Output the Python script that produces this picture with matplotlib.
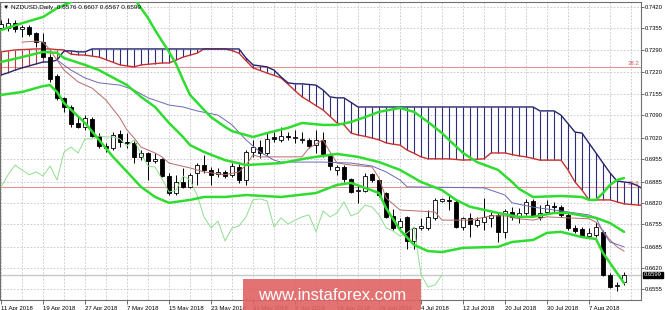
import matplotlib
matplotlib.use("Agg")
import matplotlib.pyplot as plt
from matplotlib.patches import Rectangle
from matplotlib.transforms import blended_transform_factory
import numpy as np

plt.rcParams['font.family'] = ['Liberation Sans', 'DejaVu Sans']

# daily candles, 11 Apr 2018 .. 14 Aug 2018
opens = [0.7356, 0.7356, 0.7371, 0.7353, 0.7359, 0.7341, 0.7313, 0.7267, 0.7209, 0.7142,
         0.7114, 0.7065, 0.7053, 0.7077, 0.7025, 0.6994, 0.6988, 0.7031, 0.7006, 0.7004,
         0.6961, 0.6973, 0.6948, 0.6955, 0.6902, 0.6850, 0.6884, 0.6869, 0.6912, 0.6936,
         0.6921, 0.6909, 0.6915, 0.6906, 0.6930, 0.6890, 0.6976, 0.6991, 0.6973, 0.7022,
         0.7013, 0.7025, 0.7019, 0.7013, 0.7013, 0.6997, 0.7013, 0.6967, 0.6921, 0.6930,
         0.6893, 0.6856, 0.6856, 0.6909, 0.6890, 0.6850, 0.6780, 0.6746, 0.6777, 0.6703,
         0.6743, 0.6743, 0.6774, 0.6826, 0.6829, 0.6823, 0.6746, 0.6774, 0.6752, 0.6761,
         0.6774, 0.6783, 0.6731, 0.6792, 0.6777, 0.6789, 0.6826, 0.6777, 0.6792, 0.6810,
         0.6807, 0.6783, 0.6743, 0.6740, 0.6718, 0.6721, 0.6731, 0.6599, 0.6565, 0.6576]
highs = [0.7381, 0.7387, 0.7381, 0.7365, 0.7365, 0.7344, 0.7341, 0.7273, 0.7215, 0.7145,
         0.7120, 0.7083, 0.7089, 0.7083, 0.7034, 0.7004, 0.7037, 0.7043, 0.7034, 0.7013,
         0.6982, 0.6976, 0.6973, 0.6958, 0.6912, 0.6906, 0.6927, 0.6912, 0.6942, 0.6967,
         0.6930, 0.6927, 0.6921, 0.6942, 0.6945, 0.6982, 0.7013, 0.7013, 0.7037, 0.7037,
         0.7053, 0.7037, 0.7043, 0.7037, 0.7019, 0.7043, 0.7037, 0.6973, 0.6936, 0.6936,
         0.6896, 0.6875, 0.6912, 0.6912, 0.6896, 0.6853, 0.6801, 0.6774, 0.6780, 0.6746,
         0.6774, 0.6798, 0.6835, 0.6835, 0.6844, 0.6829, 0.6777, 0.6789, 0.6777, 0.6835,
         0.6792, 0.6789, 0.6801, 0.6807, 0.6804, 0.6832, 0.6832, 0.6813, 0.6829, 0.6823,
         0.6813, 0.6789, 0.6752, 0.6746, 0.6743, 0.6761, 0.6737, 0.6605, 0.6577, 0.6607]
lows = [0.7350, 0.7347, 0.7344, 0.7329, 0.7332, 0.7298, 0.7264, 0.7191, 0.7135, 0.7099,
        0.7053, 0.7050, 0.7043, 0.7022, 0.6988, 0.6976, 0.6982, 0.6991, 0.6988, 0.6942,
        0.6951, 0.6890, 0.6942, 0.6899, 0.6844, 0.6844, 0.6866, 0.6866, 0.6875, 0.6912,
        0.6875, 0.6899, 0.6896, 0.6899, 0.6881, 0.6875, 0.6961, 0.6958, 0.6967, 0.7006,
        0.7006, 0.7013, 0.7004, 0.7004, 0.6988, 0.6973, 0.6961, 0.6921, 0.6906, 0.6884,
        0.6850, 0.6820, 0.6853, 0.6884, 0.6838, 0.6774, 0.6737, 0.6737, 0.6679, 0.6679,
        0.6737, 0.6737, 0.6767, 0.6823, 0.6798, 0.6743, 0.6737, 0.6715, 0.6746, 0.6737,
        0.6746, 0.6700, 0.6712, 0.6767, 0.6758, 0.6783, 0.6777, 0.6767, 0.6789, 0.6789,
        0.6777, 0.6737, 0.6728, 0.6715, 0.6715, 0.6715, 0.6596, 0.6559, 0.6550, 0.6567]
closes = [0.7368, 0.7371, 0.7353, 0.7359, 0.7338, 0.7313, 0.7267, 0.7200, 0.7142, 0.7114,
          0.7062, 0.7053, 0.7080, 0.7025, 0.6994, 0.6988, 0.7028, 0.7006, 0.7004, 0.6961,
          0.6973, 0.6948, 0.6955, 0.6902, 0.6850, 0.6884, 0.6869, 0.6906, 0.6936, 0.6921,
          0.6906, 0.6915, 0.6902, 0.6933, 0.6890, 0.6976, 0.6991, 0.6973, 0.7016, 0.7016,
          0.7025, 0.7022, 0.7022, 0.7016, 0.6994, 0.7013, 0.6970, 0.6933, 0.6930, 0.6893,
          0.6853, 0.6859, 0.6902, 0.6890, 0.6844, 0.6777, 0.6743, 0.6764, 0.6703, 0.6743,
          0.6749, 0.6777, 0.6829, 0.6832, 0.6826, 0.6746, 0.6774, 0.6755, 0.6767, 0.6777,
          0.6783, 0.6731, 0.6795, 0.6777, 0.6789, 0.6823, 0.6780, 0.6789, 0.6813, 0.6807,
          0.6783, 0.6743, 0.6734, 0.6718, 0.6728, 0.6746, 0.6600, 0.6562, 0.6568, 0.6599]

date_labels = ["11 Apr 2018", "19 Apr 2018", "27 Apr 2018", "7 May 2018", "15 May 2018",
               "23 May 2018", "31 May 2018", "8 Jun 2018", "18 Jun 2018", "26 Jun 2018",
               "4 Jul 2018", "12 Jul 2018", "20 Jul 2018", "30 Jul 2018", "7 Aug 2018"]
price_labels = ["0.7420", "0.7355", "0.7290", "0.7220", "0.7155", "0.7090", "0.7020",
                "0.6955", "0.6885", "0.6820", "0.6755", "0.6685", "0.6620", "0.6555"]

# ichimoku cloud (spans already shifted forward), one value per bar
span_a = [0.7283, 0.7286, 0.7289, 0.7290, 0.7291, 0.7292, 0.7292, 0.7292, 0.7290, 0.7289,
          0.7276, 0.7274, 0.7273, 0.7270, 0.7267, 0.7259, 0.7251, 0.7243, 0.7240, 0.7237,
          0.7243, 0.7245, 0.7247, 0.7249, 0.7249, 0.7258, 0.7267, 0.7273, 0.7279, 0.7292,
          0.7292, 0.7292, 0.7292, 0.7287, 0.7279, 0.7256, 0.7234, 0.7226, 0.7218, 0.7211,
          0.7203, 0.7184, 0.7164, 0.7145, 0.7132, 0.7118, 0.7105, 0.7085, 0.7065, 0.7059,
          0.7034, 0.7028, 0.7024, 0.7019, 0.7013, 0.7004, 0.7000, 0.6997, 0.6982, 0.6972,
          0.6961, 0.6955, 0.6955, 0.6955, 0.6955, 0.6953, 0.6951, 0.6952, 0.6954, 0.6955,
          0.6973, 0.6973, 0.6973, 0.6968, 0.6964, 0.6961, 0.6956, 0.6951, 0.6951, 0.6951,
          0.6951, 0.6921, 0.6884, 0.6859, 0.6829, 0.6829, 0.6829, 0.6829, 0.6823, 0.6817,
          0.6815, 0.6813, 0.6813]
span_b = [0.7212, 0.7219, 0.7227, 0.7234, 0.7240, 0.7246, 0.7252, 0.7252, 0.7258, 0.7286,
          0.7286, 0.7283, 0.7283, 0.7292, 0.7292, 0.7292, 0.7292, 0.7292, 0.7292, 0.7292,
          0.7292, 0.7292, 0.7292, 0.7292, 0.7292, 0.7292, 0.7292, 0.7292, 0.7292, 0.7292,
          0.7292, 0.7292, 0.7292, 0.7292, 0.7292, 0.7264, 0.7243, 0.7240, 0.7237, 0.7227,
          0.7206, 0.7188, 0.7185, 0.7185, 0.7183, 0.7181, 0.7166, 0.7145, 0.7142, 0.7142,
          0.7128, 0.7114, 0.7114, 0.7114, 0.7114, 0.7114, 0.7114, 0.7114, 0.7114, 0.7114,
          0.7114, 0.7114, 0.7114, 0.7114, 0.7114, 0.7114, 0.7114, 0.7114, 0.7114, 0.7114,
          0.7114, 0.7114, 0.7114, 0.7114, 0.7114, 0.7114, 0.7114, 0.7102, 0.7102, 0.7102,
          0.7089, 0.7063, 0.7037, 0.7034, 0.7003, 0.6973, 0.6942, 0.6912, 0.6887, 0.6884,
          0.6881, 0.6872, 0.6858]

# tenkan / kijun read at selected bars
tenkan_i = [3, 5, 6, 7, 9, 11, 13, 15, 17, 18, 19, 20, 22, 23, 24, 27, 29, 32, 34, 35,
            36, 37, 43, 44, 46, 47, 48, 50, 53, 54, 55, 57, 62, 63, 67, 70, 72, 74, 76, 78,
            84, 85, 87, 88, 89]
tenkan_v = [0.7313, 0.7316, 0.7313, 0.7289, 0.7227, 0.7191, 0.7172, 0.7135, 0.7080, 0.7043,
            0.7019, 0.6991, 0.6973, 0.6961, 0.6942, 0.6927, 0.6915, 0.6906, 0.6915, 0.6936,
            0.6967, 0.6961, 0.6961, 0.6988, 0.7013, 0.6976, 0.6942, 0.6936, 0.6930, 0.6896,
            0.6835, 0.6798, 0.6792, 0.6767, 0.6767, 0.6780, 0.6780, 0.6771, 0.6767, 0.6777,
            0.6771, 0.6761, 0.6706, 0.6685, 0.6672]
kijun_i = [8, 10, 12, 14, 17, 19, 21, 24, 26, 28, 31, 32, 33, 35, 37, 39, 40, 46, 50, 53,
           55, 57, 58, 69, 72, 73, 76, 84, 85, 86, 87, 89]
kijun_v = [0.7258, 0.7227, 0.7203, 0.7188, 0.7181, 0.7166, 0.7142, 0.7120, 0.7114, 0.7102,
           0.7089, 0.7074, 0.7059, 0.7013, 0.6976, 0.6951, 0.6945, 0.6945, 0.6942, 0.6933,
           0.6915, 0.6890, 0.6869, 0.6866, 0.6844, 0.6820, 0.6807, 0.6783, 0.6774, 0.6731,
           0.6700, 0.6685]
chikou_shift = 26

# bollinger bands
ub_i = [0, 3, 6, 8, 10, 11, 14, 17, 19, 21, 22, 23, 24, 25, 26, 27, 29, 30, 32, 33,
        36, 38, 41, 43, 46, 48, 50, 52, 54, 57, 59, 61, 63, 64, 66, 68, 71, 73, 74, 76,
        80, 83, 84, 85, 86, 87, 88, 89]
ub_v = [0.7350, 0.7371, 0.7390, 0.7417, 0.7436, 0.7455, 0.7475, 0.7470, 0.7447, 0.7387,
        0.7350, 0.7316, 0.7283, 0.7246, 0.7197, 0.7151, 0.7105, 0.7083, 0.7053, 0.7040,
        0.7022, 0.7034, 0.7050, 0.7065, 0.7059, 0.7059, 0.7068, 0.7083, 0.7099, 0.7111,
        0.7099, 0.7068, 0.7034, 0.7013, 0.6973, 0.6945, 0.6921, 0.6884, 0.6863, 0.6838,
        0.6841, 0.6838, 0.6829, 0.6829, 0.6850, 0.6875, 0.6890, 0.6896]
mb_i = [0, 3, 6, 8, 9, 12, 14, 18, 20, 22, 24, 26, 27, 29, 32, 35, 40, 44, 48, 51,
        54, 57, 60, 63, 65, 67, 71, 74, 76, 79, 81, 84, 85, 87, 89]
mb_v = [0.7252, 0.7267, 0.7283, 0.7280, 0.7264, 0.7243, 0.7227, 0.7181, 0.7145, 0.7114,
        0.7065, 0.7022, 0.6997, 0.6976, 0.6951, 0.6936, 0.6942, 0.6958, 0.6970, 0.6961,
        0.6945, 0.6921, 0.6884, 0.6859, 0.6829, 0.6808, 0.6789, 0.6777, 0.6777, 0.6789,
        0.6789, 0.6777, 0.6774, 0.6758, 0.6731]
lb_i = [0, 3, 6, 7, 8, 9, 12, 14, 16, 18, 20, 22, 24, 27, 29, 32, 35, 40, 45, 48,
        50, 52, 54, 55, 57, 59, 61, 63, 66, 71, 73, 76, 78, 80, 83, 85, 86, 88, 89]
lb_v = [0.7151, 0.7160, 0.7178, 0.7181, 0.7160, 0.7126, 0.7065, 0.7013, 0.6961, 0.6915,
        0.6869, 0.6838, 0.6820, 0.6829, 0.6838, 0.6838, 0.6844, 0.6838, 0.6850, 0.6875,
        0.6881, 0.6866, 0.6850, 0.6804, 0.6737, 0.6691, 0.6672, 0.6669, 0.6682, 0.6685,
        0.6700, 0.6706, 0.6728, 0.6731, 0.6715, 0.6709, 0.6666, 0.6605, 0.6574]

fibo_levels = [0.72375, 0.6870]
fibo_names = ["38.2", "23.6"]
header = "\u25bc NZDUSD,Daily  0.6576 0.6607 0.6567 0.6599"
last_price = closes[-1]

# ---- figure ----
W, H = 665, 310
fig = plt.figure(figsize=(W / 100, H / 100), dpi=100)
ax = fig.add_axes([0 / W, 10 / H, 641 / W, 298 / H])
ax.set_xlim(-0.15, 91.43)
ax.set_ylim(0.6522, 0.7436)

grid_kw = dict(color='#c4c4c4', lw=0.6, linestyle=(0, (2, 2)))
ax.set_xticks(np.arange(0, 90, 6))
ax.set_xticklabels(date_labels)
ax.set_xticks(np.arange(0, 92, 3), minor=True)
ax.set_yticks([float(p) for p in price_labels])
ax.set_yticklabels(price_labels)
ax.grid(True, which='both', **grid_kw)
ax.set_axisbelow(True)
ax.yaxis.tick_right()
ax.tick_params(axis='y', length=2, width=0.6, pad=0.6, labelsize=4.2, color='#555555')
ax.tick_params(axis='x', which='major', length=3, width=0.6, pad=1, labelsize=4.3, color='#555555')
ax.tick_params(axis='x', which='minor', length=0)
for lbl in ax.get_xticklabels():
    lbl.set_horizontalalignment('left')
for s in ax.spines.values():
    s.set_color('#707070')
    s.set_linewidth(0.8)

# fibo lines and current price line
for lev, name in zip(fibo_levels, fibo_names):
    ax.axhline(lev, color='#e09595', lw=0.8, zorder=1)
    ax.text(91.2, lev + 0.0002, name, ha='right', va='bottom', fontsize=4.3, color='#d05a5a', zorder=1)
ax.axhline(last_price, color='#c8c8c8', lw=1.0, zorder=1)

# cloud
ci = np.arange(len(span_a))
sa = np.array(span_a)
sb = np.array(span_b)
hatch_cols = np.where(sa > sb, '#b83a3a', '#2c2c7c')
ax.vlines(ci, sa, sb, colors=hatch_cols, lw=0.8, zorder=2)
ax.plot(ci, sa, color='#c83030', lw=1.0, zorder=2.5)
ax.plot(ci, sb, color='#24246e', lw=1.0, zorder=2.5)

# candles
idx = np.arange(len(closes))
o = np.array(opens)
c = np.array(closes)
up = c >= o
ax.vlines(idx, lows, highs, color='black', lw=0.7, zorder=3)
body_lo = np.minimum(o, c)
body_h = np.maximum(np.abs(c - o), 0.00012)
ax.bar(idx, body_h, bottom=body_lo, width=0.62, color=np.where(up, 'white', 'black'),
       edgecolor='black', lw=0.6, zorder=3.5)

# ichimoku lines
ax.plot(tenkan_i, tenkan_v, color='#b86a6a', lw=0.7, zorder=4)
ax.plot(kijun_i, kijun_v, color='#6a6ab4', lw=0.7, zorder=4)
ax.plot(idx[:-chikou_shift], c[chikou_shift:], color='#8fdf8f', lw=0.7, zorder=4)

# bollinger bands
for bi, bv in ((ub_i, ub_v), (mb_i, mb_v), (lb_i, lb_v)):
    ax.plot(bi, bv, color='#2fdc2f', lw=1.8, zorder=5, solid_capstyle='round')

# current price box on the scale
tr = blended_transform_factory(ax.transAxes, ax.transData)
ax.text(1.005, last_price, "%.4f" % last_price, transform=tr, ha='left', va='center',
        fontsize=4.2, color='white', clip_on=False, zorder=6,
        bbox=dict(boxstyle='square,pad=0.15', fc='black', ec='black'))

fig.text(3 / W, (H - 7) / H, header, fontsize=4.6, va='center', ha='left', color='black')

# watermark
fig.patches.append(Rectangle((243 / W, 0), 178 / W, 31 / H, transform=fig.transFigure,
                             fc='#e06464', ec='none', alpha=0.9, zorder=5))
fig.text(332 / W, 15 / H, "www.instaforex.com", ha='center', va='center', color='white',
         fontsize=12, zorder=6)

fig.savefig("out.png", dpi=100)
